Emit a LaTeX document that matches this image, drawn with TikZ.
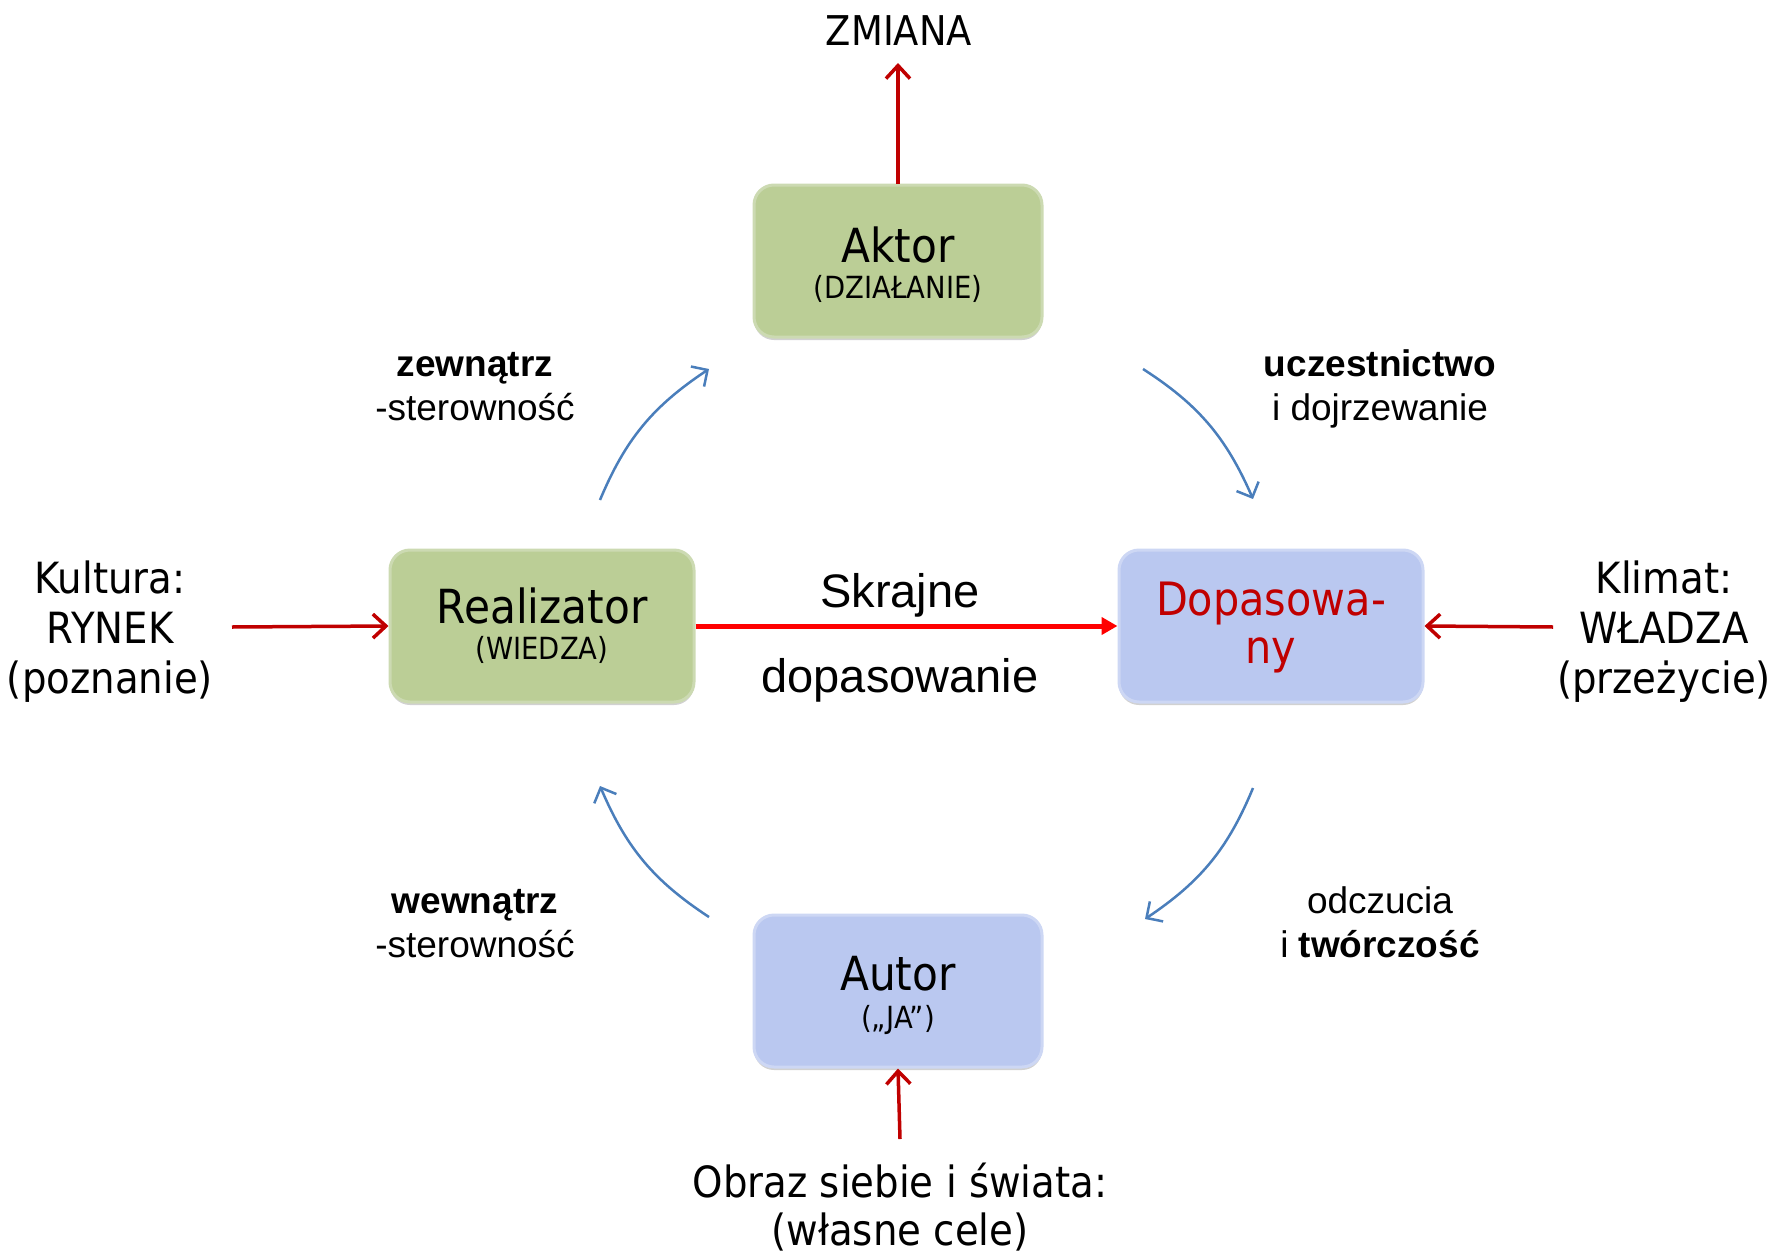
\documentclass[tikz,border=0pt]{standalone}
\usepackage{fontspec}
\setmainfont{Liberation Sans}
\newfontfamily\tah[FakeStretch=0.9]{DejaVu Sans}
\usetikzlibrary{arrows.meta,shadows,bending}
\definecolor{boxgreen}{HTML}{BBCE96}
\definecolor{boxgreenrim}{HTML}{CCDAB2}
\definecolor{boxblue}{HTML}{BAC8F0}
\definecolor{boxbluerim}{HTML}{CDD7F4}
\definecolor{darkred}{HTML}{C00000}
\definecolor{flowblue}{HTML}{4A7EBB}
\begin{document}
\begin{tikzpicture}[x=1pt,y=-1pt,
  basebox/.style={rounded corners=20pt, line width=3pt, minimum height=152pt, inner sep=0pt,
    drop shadow={shadow xshift=0pt, shadow yshift=-3pt, opacity=0.18, fill=black}},
  greenbox/.style={basebox, fill=boxgreen, draw=boxgreenrim},
  bluebox/.style={basebox, fill=boxblue, draw=boxbluerim},
  bigtxt/.style={font=\tah\fontsize{47}{50}\selectfont, anchor=base, inner sep=0pt},
  smalltxt/.style={font=\tah\fontsize{30.5}{34}\selectfont, anchor=base, inner sep=0pt},
  sidetxt/.style={font=\tah\fontsize{43}{48}\selectfont, anchor=base, inner sep=0pt},
  flowtxt/.style={font=\fontsize{37}{44}\selectfont, anchor=base, inner sep=0pt},
  midtxt/.style={font=\fontsize{47}{54}\selectfont, anchor=base, inner sep=0pt},
  redarrow/.style={draw=darkred, line width=3.5pt, -{Straight Barb[length=13pt,width=24pt]}},
  bigarrow/.style={draw=red, line width=5pt, -{Triangle[length=16pt,width=17pt]}},
  bluearrow/.style={draw=flowblue, line width=2.5pt, -{Straight Barb[length=12pt,width=24pt,flex]}}
]
\useasboundingbox (0,0) rectangle (1791,1258);

% boxes
\node[greenbox, minimum width=288pt] (aktor) at (898,261) {};
\node[greenbox, minimum width=304pt] (real) at (542,626) {};
\node[bluebox, minimum width=304pt] (dopa) at (1271,626) {};
\node[bluebox, minimum width=288pt] (autor) at (898,991) {};

% box texts
\node[bigtxt] (aktorT) at (898,262) {Aktor};
\node[smalltxt] (aktorS) at (898,298) {(DZIAŁANIE)};
\node[bigtxt] (realT) at (542,623) {Realizator};
\node[smalltxt] (realS) at (542,659) {(WIEDZA)};
\node[bigtxt, text=darkred, font=\tah\fontsize{46}{50}\selectfont] (dopaT) at (1271,615) {Dopasowa-};
\node[bigtxt, text=darkred, font=\tah\fontsize{46}{50}\selectfont] (dopaS) at (1271,663) {ny};
\node[bigtxt] (autorT) at (898,990) {Autor};
\node[smalltxt] (autorS) at (898,1028) {(„JA”)};

% outer texts
\node[font=\tah\fontsize{41}{48}\selectfont, anchor=base, inner sep=0pt] (zmiana) at (899,45) {ZMIANA};
\node[sidetxt] (kult1) at (110,593) {Kultura:};
\node[sidetxt] (kult2) at (110,643) {RYNEK};
\node[sidetxt] (kult3) at (110,693) {(poznanie)};
\node[sidetxt] (klim1) at (1664,593) {Klimat:};
\node[sidetxt] (klim2) at (1664,643) {WŁADZA};
\node[sidetxt] (klim3) at (1664,693) {(przeżycie)};
\node[sidetxt] (obraz1) at (900,1197) {Obraz siebie i świata:};
\node[sidetxt] (obraz2) at (900,1245) {(własne cele)};

% middle texts
\node[midtxt] (skr1) at (900,607) {Skrajne};
\node[midtxt] (skr2) at (900,692) {dopasowanie};

% flow labels
\node[flowtxt, font=\bfseries\fontsize{37}{44}\selectfont] (zew1) at (475,376) {zewnątrz};
\node[flowtxt] (zew2) at (475,420) {-sterowność};
\node[flowtxt, font=\bfseries\fontsize{37}{44}\selectfont] (ucz1) at (1380,376) {uczestnictwo};
\node[flowtxt] (ucz2) at (1380,420) {i dojrzewanie};
\node[flowtxt, font=\bfseries\fontsize{37}{44}\selectfont] (wew1) at (475,913) {wewnątrz};
\node[flowtxt] (wew2) at (475,957) {-sterowność};
\node[flowtxt] (odcz1) at (1380,913) {odczucia};
\node[flowtxt] (odcz2) at (1380,957) {i \textbf{twórczość}};

% red connectors
\coordinate (zmianaTip) at (898,63);
\coordinate (kultStart) at (232,627);
\coordinate (klimStart) at (1553,627);
\coordinate (obrazStart) at (900,1139);
\draw[redarrow] (aktor.north) -- (zmianaTip);
\draw[redarrow] (kultStart) -- (real.west);
\draw[redarrow] (klimStart) -- (dopa.east);
\draw[redarrow] (obrazStart) -- (autor.south);
\draw[bigarrow] (real.east) -- (dopa.west);

% blue cycle arrows
\coordinate (b1s) at (600,500);
\coordinate (b1e) at (709,369);
\coordinate (b2s) at (1143,369);
\coordinate (b2e) at (1253,499);
\coordinate (b3s) at (1253,788);
\coordinate (b3e) at (1145,919);
\coordinate (b4s) at (709,917);
\coordinate (b4e) at (600,786);
\draw[bluearrow] (b1s) to[bend left=17] (b1e);
\draw[bluearrow] (b2s) to[bend left=17] (b2e);
\draw[bluearrow] (b3s) to[bend left=17] (b3e);
\draw[bluearrow] (b4s) to[bend left=17] (b4e);
\end{tikzpicture}
\end{document}
